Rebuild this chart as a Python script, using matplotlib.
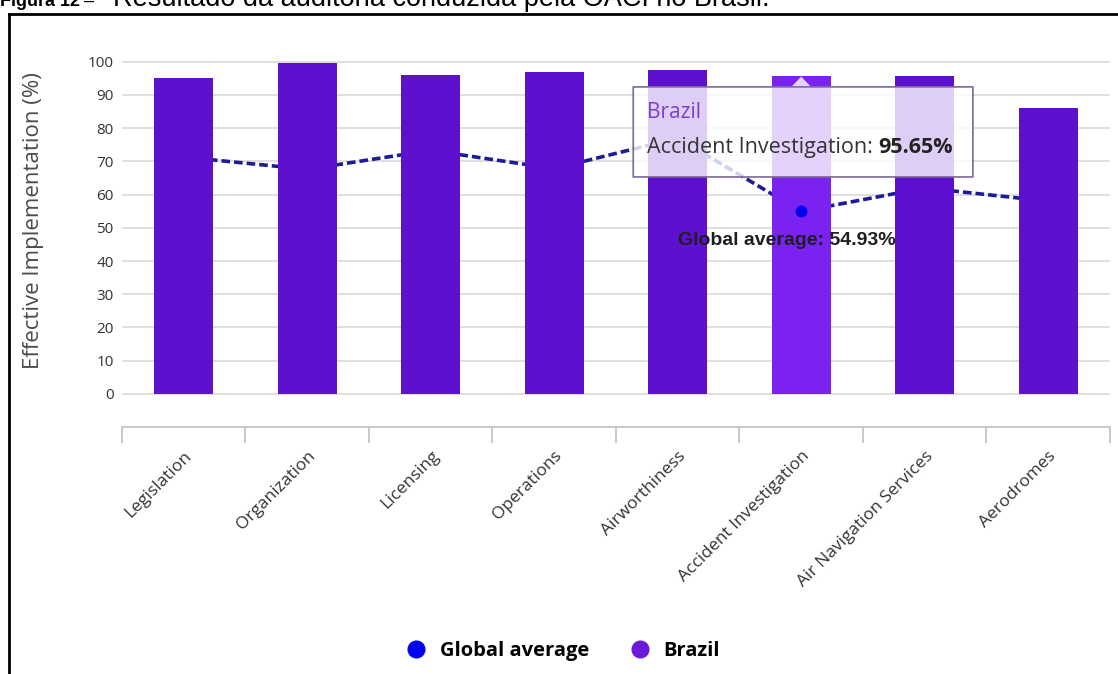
import numpy as np
import matplotlib.pyplot as plt
from matplotlib.lines import Line2D
from matplotlib.patches import FancyBboxPatch, Polygon

categories = ['Legislation', 'Organization', 'Licensing', 'Operations',
              'Airworthiness', 'Accident Investigation', 'Air Navigation Services', 'Aerodromes']
brazil = [95.0, 99.5, 96.0, 97.0, 97.5, 95.65, 95.6, 86.0]
global_avg = [71.3, 67.6, 73.3, 67.8, 77.0, 54.93, 62.0, 58.0]
yticks = list(range(0, 101, 10))
hover = 5  # highlighted category

BAR = '#5e10cf'
BAR_HOVER = '#7a22f2'
LINE = '#1c1c96'
GRID = '#d9d9d9'
TXT = '#333333'

plt.rcParams['font.family'] = ['Open Sans', 'DejaVu Sans']

fig = plt.figure(figsize=(11.18, 6.74), dpi=100)
ax = fig.add_axes([0.1091, 0.3662, 0.8837, 0.5522])

x = np.arange(len(categories))
colors = [BAR_HOVER if i == hover else BAR for i in x]
ax.bar(x, brazil, width=0.478, color=colors, zorder=3)
ax.plot(x, global_avg, color=LINE, lw=2.6, dashes=(2.4, 1.1), zorder=2)
ax.plot(x[hover], global_avg[hover], 'o', color='#0000f0', ms=7.5, zorder=4)

ax.set_xlim(-0.5, len(categories) - 0.5)
ax.set_ylim(-10, 102)
ax.set_yticks(yticks)
ax.set_yticklabels([str(v) for v in yticks], fontsize=11, color=TXT)
ax.yaxis.grid(True, color=GRID, lw=1.2, zorder=0)
ax.tick_params(axis='y', length=0, pad=6)
for s in ['top', 'right', 'left']:
    ax.spines[s].set_visible(False)
ax.spines['bottom'].set_color('#c0c0c0')
ax.spines['bottom'].set_linewidth(1.2)

ax.set_xticks(x)
ax.set_xticklabels(categories, rotation=45, ha='right', rotation_mode='anchor',
                   fontsize=12.5, color=TXT)
ax.tick_params(axis='x', length=0, pad=15)
ax.set_xticks(np.arange(-0.5, len(categories)), minor=True)
ax.tick_params(axis='x', which='minor', length=11.5, width=1.2, color='#c0c0c0')

ax.set_ylabel('Effective Implementation (%)', fontsize=16, color='#4a4a4a')
ax.yaxis.set_label_coords(-0.079, 0.554)

# hover tooltip
box = dict(boxstyle='round,pad=0,rounding_size=0.03')
ax.add_patch(FancyBboxPatch((3.64, 65.3), 2.75, 27.1, facecolor='white', alpha=0.8,
                            edgecolor='none', zorder=5, **box))
ax.add_patch(FancyBboxPatch((3.64, 65.3), 2.75, 27.1, facecolor='none',
                            edgecolor='#7d6a95', lw=1.2, zorder=6, **box))
ax.add_patch(Polygon([[4.92, 92.4], [5.0, 95.5], [5.08, 92.4]], closed=True,
                     facecolor='white', alpha=0.8, edgecolor='none', zorder=5))
ax.text(3.75, 84.6, 'Brazil', fontsize=15, color='#7b3fc8', va='center', zorder=7)
t1 = ax.text(3.75, 74.3, categories[hover] + ': ', fontsize=15.5, color=TXT,
             va='center', zorder=7)
fig.canvas.draw()
ax.annotate(f'{brazil[hover]:.2f}%', xy=(1, 0), xycoords=t1, fontsize=15.5,
            fontweight='bold', color='#222222', va='bottom', zorder=7)

ax.text(4.88, 46.3, f'Global average: {global_avg[hover]:.2f}%', family='Liberation Sans',
        fontsize=14, fontweight='bold', color='#1f1f1f', ha='center', va='center', zorder=7)

# legend
handles = [Line2D([], [], marker='o', ls='none', color='#0000f0', ms=12),
           Line2D([], [], marker='o', ls='none', color='#6a1ad8', ms=12)]
fig.legend(handles, ['Global average', 'Brazil'], loc='center', bbox_to_anchor=(0.499, 0.034),
           ncol=2, frameon=False, handletextpad=0.2, columnspacing=1.5,
           prop={'weight': 'bold', 'size': 14.5})

# frame and caption
fig.add_artist(Line2D([9 / 1118, 9 / 1118], [0, 1 - 14 / 674], color='black', lw=2,
                      transform=fig.transFigure))
fig.add_artist(Line2D([9 / 1118, 1], [1 - 14 / 674, 1 - 14 / 674], color='black', lw=2,
                      transform=fig.transFigure))
cap_y = 1 - 6 / 674
fig.text(0.0, cap_y, 'Figura 12', family='Liberation Sans', fontsize=13,
         fontweight='bold', va='baseline')
fig.text(84 / 1118, cap_y, '\u2013', family='Liberation Sans', fontsize=13, va='baseline')
fig.text(113 / 1118, cap_y, 'Resultado da auditoria conduzida pela OACI no Brasil.',
         family='Liberation Sans', fontsize=19.5, va='baseline')

fig.savefig('out.png', dpi=100)
